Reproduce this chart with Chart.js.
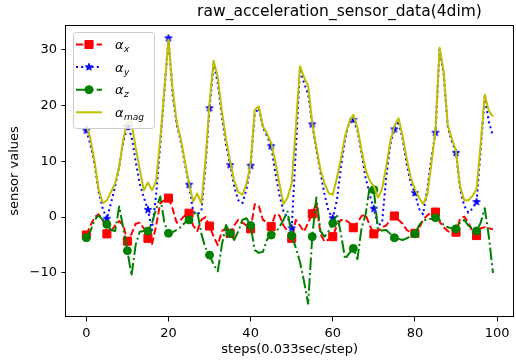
<!DOCTYPE html>
<html>
<head>
<meta charset="utf-8">
<script src="https://cdn.jsdelivr.net/npm/chart.js@4"></script>
<style>
html, body { margin: 0; padding: 0; background: #fff; overflow: hidden; }
#wrap { width: 520px; height: 364px; }
</style>
</head>
<body>
<div id="wrap"><canvas id="sensorChart" width="520" height="364"></canvas></div>
<script>
// values, one per step
var accX = [
    -3.2, -1.5, 0, 0.5, -0.5, -3.0, -2.5, -1.5, -0.7, -1.5,
    -4.3, -3, -1.2, -1.0, -2.0, -3.8, -4.8, -1.5, 2.5, 3.0,
    3.4, 1.5, -1.0, -0.5, 0.3, 0.7, -1.5, -2.5, -0.5, 0,
    -1.6, -3.5, -5.0, -2.5, -2.0, -2.9, -1.5, -0.5, -1.0, -1.5,
    -2.1, 2.3, 2.0, -0.5, -1.0, -1.7, 0.5, 0.3, -1.5, -2.5,
    -3.8, -0.5, -1.5, -2.6, -1, 0.6, 2.5, -3.0, -4.4, -4.0,
    -3.5, -1.5, -0.5, -0.5, -1.0, -1.9, -1.0, 0.2, 0.4, -1.5,
    -3.0, -2.5, -1.8, -1.5, -0.5, 0.2, -0.5, -1.2, -2.3, -2.8,
    -2.9, -2.0, -0.5, 0.3, 0.9, 0.9, -0.8, -1.8, -2.5, -2.8,
    -2.7, -0.3, 0.1, -1.0, -2.5, -3.3, -2.0, -1.8, -2.0, -2.2
];
var accY = [
    15.5, 13, 9.5, 4.5, 1.5, -0.3, 2.5, 5.5, 9, 13.5,
    16.2, 14.5, 10, 6, 3.5, 1.3, -2.3, 4, 13, 22.5,
    32, 22, 16.5, 13.5, 9.5, 5.8, 1, 0.5, 1.0, 9,
    19.5, 27.5, 24, 18, 13, 9.3, 5.5, 3, 2.5, 5,
    9.2, 18.5, 19.5, 16, 14.5, 12.7, 8, 4, 1, 0,
    -2, 12, 26.5, 24, 22, 16.6, 12, 8, 4, 1,
    -0.2, 3, 9, 14, 17, 17.4, 15.5, 11.5, 7, 4,
    1.5, -1.5, -1, 7, 13, 15.7, 17.2, 14, 9.5, 6,
    4.3, 1.5, 0.5, 5, 10.5, 15.1, 30, 25.5, 16, 13.5,
    11.5, 5, 2, 0.8, 1.5, 2.7, 12, 21.5, 17, 14.5
];
var accZ = [
    -3.7, -2.5, -0.5, 0.3, -0.5, -1.3, -2.3, -2.5, 1.9, -2,
    -6.0, -10.5, -5, -2.6, -2.5, -2.5, -1, 1.5, 3.7, -1,
    -2.9, -2.7, -2.3, -1.8, -1.0, -0.5, 0.5, 1.0, -3, -5.5,
    -6.8, -8.5, -9.7, -5, -1.4, -2.9, -4.1, -2.5, -0.5, -0.2,
    -1.5, -5.9, -6.4, -6.2, -4, -3.2, -2.8, -1.8, -0.5, 1.0,
    -3.3, -5.5, -8, -11.5, -15.5, -3.5, 3.5, -2.5, -3.5, -2.5,
    -1.1, 0.5, -3, -7.5, -6.5, -5.6, -7.5, -2, 0.5, 5.5,
    4.9, -2.3, -2.4, -2.3, -3, -3.7, -3.9, -4.1, -3.8, -3.4,
    -3.0, -1.5, -0.5, -0.5, -0.3, -0.1, -0.5, -1.4, -1.8, -2.0,
    -2.1, -1.0, -0.5, -1.5, -2.0, -2.5, -1.0, 1.6, -3.5, -10
];
var accMag = [
    16.5, 14, 10, 5, 2.5, 3.0, 4.5, 6, 9, 14,
    17, 17, 12.5, 8.5, 4.8, 6.2, 4.8, 6.5, 14, 23,
    31.8, 23, 17, 14, 10, 6, 2.8, 4.2, 2.5, 10,
    20.5, 28, 25, 19, 14, 10, 6.5, 4.5, 4, 6,
    9.5, 19.2, 19.8, 16.2, 15, 13.2, 10, 6, 2.3, 3.5,
    6, 16, 27, 25, 23.5, 16.8, 12.5, 8.5, 6, 4.3,
    4, 7, 10.5, 14.5, 17, 18.3, 16, 12, 8.5, 6.5,
    5.5, 3.5, 5, 9, 13.5, 16.3, 17.7, 14.5, 10.5, 7,
    5, 3.5, 2.3, 4, 9.5, 15.5, 30.3, 26, 16.5, 14,
    11.8, 5.5, 3, 3, 3.8, 5, 13, 21.9, 19, 18
];
var seriesLabels = ['αx', 'αy', 'αz', 'αmag'];
var legendSubs = ['x', 'y', 'z', 'mag'];
var xTicks = [0, 20, 40, 60, 80, 100];
var yTicks = [-10, 0, 10, 20, 30];
var steps = accX.map(function (v, i) { return i; });

// axis limits like matplotlib's 5% margins
var allVals = accX.concat(accY, accZ, accMag);
var lo = Math.min.apply(null, allVals), hi = Math.max.apply(null, allVals);
var ySpan = hi - lo;
var xSpan = steps[steps.length - 1] - steps[0];

Chart.defaults.font.family = '"DejaVu Sans"';
Chart.defaults.color = '#000';

// filled 5 point star, like the '*' marker
var starImg = (function () {
    var c = document.createElement('canvas');
    c.width = 10; c.height = 10;
    var g = c.getContext('2d');
    g.beginPath();
    for (var k = 0; k < 10; k++) {
        var r = k % 2 === 0 ? 3.8 : 1.6;
        var a = -Math.PI / 2 + k * Math.PI / 5;
        if (k === 0) g.moveTo(5 + r * Math.cos(a), 5 + r * Math.sin(a));
        else g.lineTo(5 + r * Math.cos(a), 5 + r * Math.sin(a));
    }
    g.closePath();
    g.fillStyle = '#0000ff';
    g.fill();
    g.strokeStyle = '#0000ff';
    g.lineWidth = 1;
    g.stroke();
    return c;
})();

function toPoints(vals) {
    return vals.map(function (v, i) { return { x: steps[i], y: v }; });
}
function every5(r) {
    return function (ctx) { return ctx.dataIndex % 5 === 0 ? r : 0; };
}

var mplDecor = {
    id: 'mplDecor',
    afterDatasetsDraw: function (chart) {
        var ctx = chart.ctx, a = chart.chartArea;
        ctx.save();
        // spines
        ctx.strokeStyle = '#000';
        ctx.lineWidth = 1;
        ctx.setLineDash([]);
        ctx.strokeRect(Math.round(a.left) - 0.5, Math.round(a.top) + 0.5,
            Math.round(a.right - a.left) + 1, Math.round(a.bottom - a.top) - 1);
        // title
        ctx.fillStyle = '#000';
        ctx.font = '15.5px "DejaVu Sans"';
        ctx.textAlign = 'center';
        ctx.textBaseline = 'alphabetic';
        ctx.fillText('raw_acceleration_sensor_data(4dim)', 339.5, 16);
        // legend
        ctx.beginPath();
        ctx.roundRect(73.5, 32.5, 81, 96, 3);
        ctx.fillStyle = 'rgba(255,255,255,0.8)';
        ctx.fill();
        ctx.strokeStyle = '#cccccc';
        ctx.stroke();
        chart.data.datasets.forEach(function (ds, k) {
            var cy = 44.5 + k * 22.6;
            ctx.strokeStyle = ds.borderColor;
            ctx.lineWidth = ds.borderWidth;
            ctx.lineCap = 'butt';
            ctx.setLineDash(ds.borderDash || []);
            ctx.beginPath();
            ctx.moveTo(76, cy);
            ctx.lineTo(102, cy);
            ctx.stroke();
            ctx.setLineDash([]);
            ctx.fillStyle = ds.borderColor;
            ctx.lineWidth = 1;
            if (ds.pointStyle === 'rect') {
                ctx.fillRect(85, cy - 4, 8, 8);
                ctx.strokeRect(85, cy - 4, 8, 8);
            } else if (ds.pointStyle === 'circle') {
                ctx.beginPath();
                ctx.arc(89, cy, 4, 0, Math.PI * 2);
                ctx.fill();
                ctx.stroke();
            } else if (ds.pointStyle === starImg) {
                ctx.drawImage(starImg, 84, cy - 5);
            }
            ctx.fillStyle = '#000';
            ctx.textAlign = 'left';
            ctx.font = 'italic 13px "DejaVu Sans"';
            ctx.fillText('α', 115, cy + 4.5);
            var w = ctx.measureText('α').width;
            ctx.font = 'italic 9px "DejaVu Sans"';
            ctx.fillText(legendSubs[k], 115 + w + 0.5, cy + 7.5);
        });
        ctx.restore();
    }
};

new Chart(document.getElementById('sensorChart'), {
    type: 'line',
    data: {
        datasets: [{
                label: seriesLabels[0],
                data: toPoints(accX),
                borderColor: '#ff0000',
                backgroundColor: '#ff0000',
                borderWidth: 2,
                borderDash: [7.2, 3.1],
                pointStyle: 'rect',
                pointRadius: every5(5.7),
                pointBorderWidth: 1,
                pointBorderColor: '#ff0000',
                pointBackgroundColor: '#ff0000',
                order: 4
            }, {
                label: seriesLabels[1],
                data: toPoints(accY),
                borderColor: '#0000ff',
                backgroundColor: '#0000ff',
                borderWidth: 2,
                borderDash: [2, 3.2],
                pointStyle: starImg,
                pointRadius: every5(4),
                order: 3
            }, {
                label: seriesLabels[2],
                data: toPoints(accZ),
                borderColor: '#008000',
                backgroundColor: '#008000',
                borderWidth: 2,
                borderDash: [12.5, 3.1, 2, 3.1],
                pointStyle: 'circle',
                pointRadius: every5(4),
                pointBorderWidth: 1,
                pointBorderColor: '#008000',
                pointBackgroundColor: '#008000',
                order: 2
            }, {
                label: seriesLabels[3],
                data: toPoints(accMag),
                borderColor: '#bfbf00',
                backgroundColor: '#bfbf00',
                borderWidth: 2,
                pointRadius: 0,
                order: 1
            }]
    },
    options: {
        responsive: false,
        animation: false,
        events: [],
        elements: { line: { tension: 0, fill: false, borderJoinStyle: 'round' } },
        layout: { padding: { top: 25, right: 2, left: 0, bottom: 0 } },
        plugins: { legend: { display: false }, tooltip: { enabled: false } },
        scales: {
            x: {
                type: 'linear',
                min: steps[0] - 0.05 * xSpan,
                max: steps[steps.length - 1] + 0.05 * xSpan,
                afterFit: function (s) { s.height = 47; },
                afterBuildTicks: function (s) { s.ticks = xTicks.map(function (v) { return { value: v }; }); },
                border: { display: false },
                grid: { drawOnChartArea: false, drawTicks: true, tickLength: 4.5, color: '#000', lineWidth: 1 },
                ticks: { autoSkip: false, maxRotation: 0, padding: 4, font: { size: 13 }, color: '#000' },
                title: { display: true, text: 'steps(0.033sec/step)', font: { size: 13 }, color: '#000', padding: { top: 0, bottom: 7 } }
            },
            y: {
                min: lo - 0.05 * ySpan,
                max: hi + 0.05 * ySpan,
                afterFit: function (s) { s.width = 66; },
                afterBuildTicks: function (s) { s.ticks = yTicks.map(function (v) { return { value: v }; }); },
                border: { display: false },
                grid: { drawOnChartArea: false, drawTicks: true, tickLength: 4.5, color: '#000', lineWidth: 1 },
                ticks: {
                    autoSkip: false, padding: 4.5, font: { size: 13 }, color: '#000',
                    callback: function (v) { return String(v).replace('-', '\u2212'); }
                },
                title: { display: true, text: 'sensor values', font: { size: 13 }, color: '#000', padding: { top: 7, bottom: 0 } }
            }
        }
    },
    plugins: [mplDecor]
});
</script>
</body>
</html>
